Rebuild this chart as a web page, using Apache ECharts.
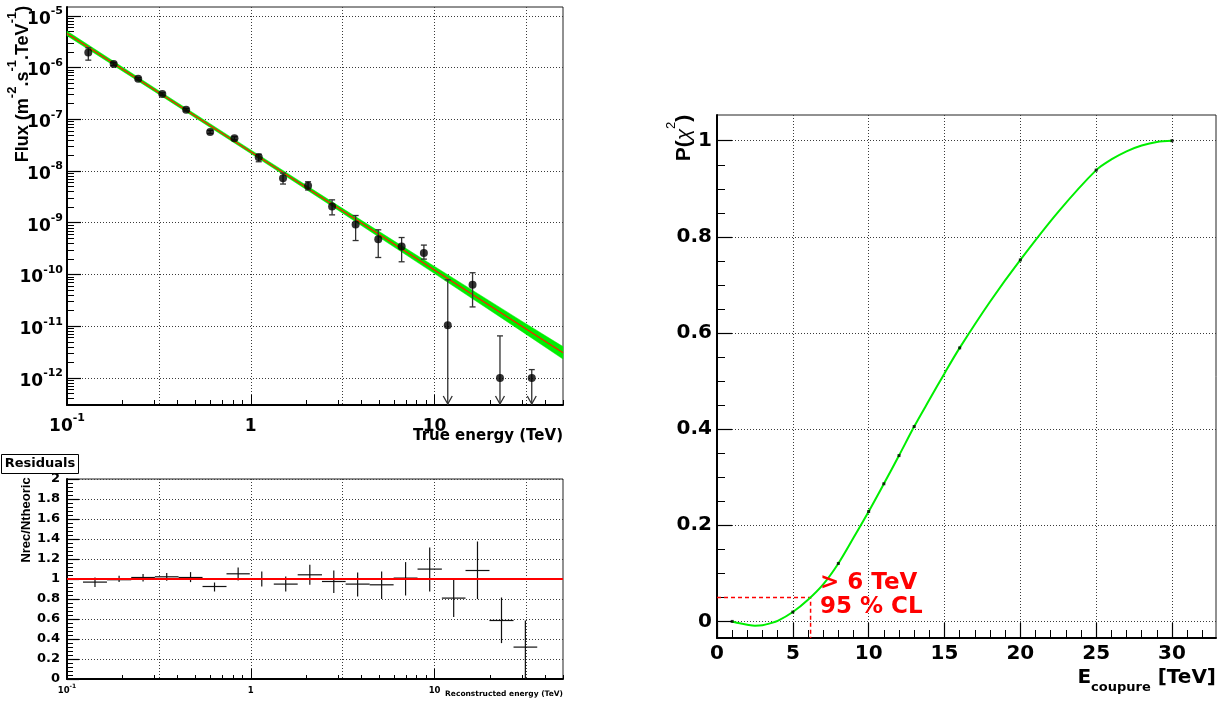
<!DOCTYPE html>
<html>
<head>
<meta charset="utf-8">
<script src="https://cdn.jsdelivr.net/npm/echarts@6.0.0/dist/echarts.min.js"></script>
<style>
html,body{margin:0;padding:0;background:#ffffff;}
#chart{width:1224px;height:702px;}
</style>
</head>
<body>
<div id="chart"></div>
<script>
// ===================== DATA =====================
// --- Differential flux (top-left panel) ---
const fluxEnergy     = [0.1306,0.1795,0.244,0.33,0.445,0.601,0.815,1.105,1.498,2.05,2.77,3.72,4.94,6.62,8.75,11.8,16.1,22.7,33.8];
const fluxValue      = [1.96e-6,1.17e-6,6.08e-7,3.08e-7,1.53e-7,5.69e-8,4.3e-8,1.85e-8,7.26e-9,5.2e-9,2.06e-9,9.25e-10,4.82e-10,3.47e-10,2.59e-10,1.04e-11,6.34e-11,1.0e-12,1.0e-12];
const fluxErrHigh    = [2.41e-6,1.25e-6,6.4e-7,3.25e-7,1.62e-7,6.1e-8,4.6e-8,2.12e-8,9.1e-9,6.2e-9,2.77e-9,1.38e-9,7.3e-10,5.18e-10,3.7e-10,7.9e-11,1.08e-10,6.5e-12,1.45e-12];
const fluxErrLow     = [1.39e-6,1.09e-6,5.8e-7,2.92e-7,1.45e-7,5.3e-8,4.0e-8,1.51e-8,5.6e-9,4.3e-9,1.42e-9,4.53e-10,2.13e-10,1.76e-10,1.98e-10,null,2.36e-11,null,null];
const fluxUpperLimit = [0,0,0,0,0,0,0,0,0,0,0,0,0,0,0,1,0,1,1];

// power-law fit and its confidence band
const fitEnergy  = [0.1, 50];
const fitFlux    = [4.57e-6, 3.06e-12];
const bandEnergy = [0.1, 0.3, 1, 3, 10, 30, 50];
const bandLow    = [4.12e-6, 3.42e-7, 2.18e-8, 1.73e-9, 1.04e-10, 7.85e-12, 2.32e-12];
const bandHigh   = [5.07e-6, 4.02e-7, 2.56e-8, 2.12e-9, 1.43e-10, 1.24e-11, 4.04e-12];

// --- Residuals (bottom-left panel) ---
const resBinEdges = [0.1222,0.165,0.2236,0.3008,0.4046,0.5464,0.7378,0.9876,1.334,1.800,2.440,3.282,4.434,5.988,8.08,10.96,14.74,19.9,26.9,36.2];
const resRatio    = [0.969,0.993,1.015,1.022,1.015,0.925,1.052,0.999,0.949,1.042,0.975,0.949,0.942,1.009,1.099,0.809,1.085,0.585,0.319];
const resUpper    = [1.015,1.033,1.049,1.059,1.069,0.965,1.115,1.075,1.025,1.142,1.085,1.065,1.075,1.169,1.315,0.992,1.375,0.815,0.585];
const resLower    = [0.920,0.970,0.975,0.982,0.969,0.875,0.985,0.925,0.875,0.942,0.859,0.825,0.799,0.835,0.875,0.619,0.799,0.359,0.0];
const resReference = 1;

// --- P(chi2) vs cut energy (right panel) ---
const cutEnergy = [1,5,8,10,11,12,13,16,20,25,30];
const chi2Prob  = [0,0.0195,0.1206,0.2287,0.2863,0.345,0.4054,0.569,0.752,0.9388,1.0];
const curveEnergy = [1,1.5,2,2.5,3,3.5,4,5,6,7,8,9,10,11,12,13,14,15,16,18,20,22.5,25,26,27,28,29,30];
const curveProb   = [0,-0.004,-0.007,-0.009,-0.008,-0.004,0.001,0.0195,0.045,0.077,0.1206,0.174,0.2287,0.2863,0.345,0.4054,0.461,0.516,0.569,0.665,0.752,0.852,0.9388,0.961,0.978,0.990,0.9975,1.0];
const clLevel  = 0.05;
const clEnergy = 6.17;

// axis ranges
const energyRange = [0.1, 50];
const fluxRange   = [3.0e-13, 1.48e-5];
const ratioRange  = [0, 2];
const cutRange    = [0, 32.9];
const probRange   = [-0.0345, 1.0535];

// tick labels
const fluxDecadeExponents = [-12,-11,-10,-9,-8,-7,-6,-5];
const energyLabelValues   = [0.1, 1, 10];
const cutTickValues       = [0,5,10,15,20,25,30];
const probTickValues      = [0,0.2,0.4,0.6,0.8,1];

// ===================== HELPERS =====================
const FH = 'DejaVu Sans';
const FV = 'Liberation Sans';
const lg = v => Math.log10(v);
const exMin = lg(energyRange[0]), exMax = lg(energyRange[1]);
const fyMin = lg(fluxRange[0]), fyMax = lg(fluxRange[1]);

const energyHalfDecades = [];
for (let v = -1; v <= exMax + 1e-9; v += 0.5) energyHalfDecades.push(v);
const energyMajor = energyLabelValues.map(lg);
const energyMinor = [];
[0.1, 1, 10].forEach(d => { for (let k = 2; k <= 9; k++) { const v = lg(k * d); if (v <= exMax) energyMinor.push(v); } });
const fluxMinor = [];
for (let n = -13; n <= -5; n++) for (let k = 2; k <= 9; k++) { const v = lg(k) + n; if (v > fyMin && v < fyMax) fluxMinor.push(v); }
const cutMinor = []; for (let i = 1; i <= 32; i++) if (i % 5) cutMinor.push(i);
const probMinor = []; for (let i = 1; i <= 20; i++) if (i % 4) probMinor.push(+(i * 0.05).toFixed(2));

const gridColor = '#3a3a3a';
function mainAxis(o) {
  return {
    type: 'value', gridIndex: o.grid, position: o.pos, min: o.min, max: o.max,
    interval: o.interval,
    axisLine: { show: true, onZero: false, lineStyle: { color: '#000', width: 2 } },
    axisTick: Object.assign({ show: !!o.tickLen, inside: true, length: o.tickLen || 0, lineStyle: { color: '#000', width: 1.2 } },
                            o.gridVals ? { customValues: o.gridVals } : {}),
    splitLine: { show: true, lineStyle: { color: gridColor, type: [1, 2], width: 1 } },
    axisLabel: Object.assign({ show: true, margin: o.margin, formatter: o.fmt, rich: o.rich, color: '#000',
                               fontFamily: FH, fontWeight: 'bold', fontSize: o.fontSize || 12 },
                             o.labelVals ? { customValues: o.labelVals } : {})
  };
}
function tickAxis(gridIdx, pos, min, max, values, len) {
  return {
    type: 'value', gridIndex: gridIdx, position: pos, min: min, max: max,
    axisLine: { show: false, onZero: false },
    axisTick: { show: true, inside: true, length: len, customValues: values, lineStyle: { color: '#000', width: 1 } },
    axisLabel: { show: false }, splitLine: { show: false }
  };
}
function richDecade(big, small, bigLH, smallLH, pad) {
  return {
    b: { fontFamily: FH, fontWeight: 'bold', fontSize: big, lineHeight: bigLH, verticalAlign: 'bottom', color: '#000' },
    e: { fontFamily: FH, fontWeight: 'bold', fontSize: small, lineHeight: smallLH, verticalAlign: 'top', color: '#000', padding: [pad, 0, 0, 0] }
  };
}
function energyFmt(v) {
  const r = Math.round(v);
  if (r === -1) return '{b|10}{e|-1}';
  if (r === 0) return '{b|1}';
  return '{b|10}';
}
const numFmt = v => { const r = Math.round(v * 10) / 10; return String(r); };

// ===================== OPTION =====================
const chart = echarts.init(document.getElementById('chart'), null, { renderer: 'canvas' });

const option = {
  animation: false,
  backgroundColor: '#ffffff',
  textStyle: { fontFamily: FH },
  grid: [
    { left: 67, top: 7, width: 496, height: 398, show: true, borderColor: '#222', borderWidth: 1, backgroundColor: 'transparent' },
    { left: 67, top: 479, width: 496, height: 200, show: true, borderColor: '#222', borderWidth: 1, backgroundColor: 'transparent' },
    { left: 717, top: 115, width: 499, height: 523, show: true, borderColor: '#222', borderWidth: 1, backgroundColor: 'transparent' }
  ],
  xAxis: [
    // 0: flux energy main
    mainAxis({ grid: 0, pos: 'bottom', min: exMin, max: exMax, gridVals: energyHalfDecades, labelVals: energyMajor,
               fmt: energyFmt, rich: richDecade(17, 11, 24, 14, 2), margin: 6 }),
    tickAxis(0, 'bottom', exMin, exMax, energyMinor, 5),
    tickAxis(0, 'bottom', exMin, exMax, energyMajor, 10),
    // 3: residual energy main
    mainAxis({ grid: 1, pos: 'bottom', min: exMin, max: exMax, gridVals: energyHalfDecades, labelVals: energyMajor,
               fmt: energyFmt, rich: richDecade(8.5, 6, 12, 7, 0), margin: 4 }),
    tickAxis(1, 'bottom', exMin, exMax, energyMinor, 4),
    tickAxis(1, 'bottom', exMin, exMax, energyMajor, 10),
    // 6: cut energy main
    mainAxis({ grid: 2, pos: 'bottom', min: cutRange[0], max: cutRange[1], gridVals: cutTickValues, labelVals: cutTickValues,
               fmt: v => String(Math.round(v)), tickLen: 15, margin: 6, fontSize: 20 }),
    tickAxis(2, 'bottom', cutRange[0], cutRange[1], cutMinor, 8)
  ],
  yAxis: [
    // 0: flux main
    mainAxis({ grid: 0, pos: 'left', min: fyMin, max: fyMax, gridVals: fluxDecadeExponents, labelVals: fluxDecadeExponents,
               fmt: v => '{b|10}{e|' + Math.round(v) + '}', rich: richDecade(17, 11, 24, 14, 2), tickLen: 14, margin: 4 }),
    tickAxis(0, 'left', fyMin, fyMax, fluxMinor, 7),
    // 2: residual ratio
    mainAxis({ grid: 1, pos: 'left', min: ratioRange[0], max: ratioRange[1], interval: 0.2,
               fmt: numFmt, tickLen: 12, margin: 7, fontSize: 13 }),
    { type: 'value', gridIndex: 1, position: 'left', min: ratioRange[0], max: ratioRange[1], interval: 0.04,
      axisLine: { show: false, onZero: false }, axisLabel: { show: false }, splitLine: { show: false },
      axisTick: { show: true, inside: true, length: 6, lineStyle: { color: '#000', width: 1 } } },
    // 4: probability
    mainAxis({ grid: 2, pos: 'left', min: probRange[0], max: probRange[1], gridVals: probTickValues, labelVals: probTickValues,
               fmt: numFmt, tickLen: 15, margin: 5, fontSize: 20 }),
    tickAxis(2, 'left', probRange[0], probRange[1], probMinor, 8)
  ],
  series: [
    // --- flux panel ---
    {
      type: 'custom', name: 'band', xAxisIndex: 0, yAxisIndex: 0, z: 2,
      data: [[lg(bandEnergy[0]), lg(bandLow[0])]],
      renderItem: (params, api) => {
        const pts = [];
        for (let i = 0; i < bandEnergy.length; i++) pts.push(api.coord([lg(bandEnergy[i]), lg(bandHigh[i])]));
        for (let i = bandEnergy.length - 1; i >= 0; i--) pts.push(api.coord([lg(bandEnergy[i]), lg(bandLow[i])]));
        return { type: 'polygon', shape: { points: pts }, style: { fill: '#00ee00', stroke: '#00ee00', lineWidth: 0.5 } };
      }
    },
    {
      type: 'line', name: 'fit', xAxisIndex: 0, yAxisIndex: 0, z: 3, symbol: 'none',
      data: fitEnergy.map((e, i) => [lg(e), lg(fitFlux[i])]),
      lineStyle: { color: '#ff1a00', width: 1.2 }
    },
    {
      type: 'custom', name: 'errors', xAxisIndex: 0, yAxisIndex: 0, z: 4,
      data: fluxEnergy.map((e, i) => [lg(e), lg(fluxValue[i]), lg(fluxErrHigh[i]),
                                      lg(fluxErrLow[i] === null ? fluxValue[i] : fluxErrLow[i]), fluxUpperLimit[i]]),
      renderItem: (params, api) => {
        const x = api.value(0);
        const ul = api.value(4);
        const pHi = api.coord([x, api.value(2)]);
        const cs = params.coordSys;
        const bottom = cs.y + cs.height;
        const pLo = ul ? [pHi[0], bottom] : api.coord([x, api.value(3)]);
        const st = { stroke: '#303030', lineWidth: 1.3, fill: 'none' };
        const ch = [
          { type: 'line', shape: { x1: pHi[0], y1: pHi[1], x2: pLo[0], y2: pLo[1] }, style: st },
          { type: 'line', shape: { x1: pHi[0] - 3, y1: pHi[1], x2: pHi[0] + 3, y2: pHi[1] }, style: st }
        ];
        if (ul) {
          ch.push({ type: 'polyline', shape: { points: [[pLo[0] - 4.5, bottom - 9], [pLo[0], bottom - 1], [pLo[0] + 4.5, bottom - 9]] }, style: st });
        } else {
          ch.push({ type: 'line', shape: { x1: pLo[0] - 3, y1: pLo[1], x2: pLo[0] + 3, y2: pLo[1] }, style: st });
        }
        return { type: 'group', children: ch };
      }
    },
    {
      type: 'scatter', name: 'flux', xAxisIndex: 0, yAxisIndex: 0, z: 5,
      symbol: 'circle', symbolSize: 8, itemStyle: { color: '#000' },
      data: fluxEnergy.map((e, i) => [lg(e), lg(fluxValue[i])])
    },
    // --- residual panel ---
    {
      type: 'custom', name: 'residuals', xAxisIndex: 3, yAxisIndex: 2, z: 4,
      data: resRatio.map((r, i) => [ (lg(resBinEdges[i]) + lg(resBinEdges[i + 1])) / 2, r,
                                     lg(resBinEdges[i]), lg(resBinEdges[i + 1]), resUpper[i], resLower[i] ]),
      renderItem: (params, api) => {
        const xc = api.value(0), r = api.value(1);
        const a = api.coord([api.value(2), r]);
        const b = api.coord([api.value(3), r]);
        const u = api.coord([xc, api.value(4)]);
        const d = api.coord([xc, api.value(5)]);
        const st = { stroke: '#111', lineWidth: 1.2, fill: 'none' };
        return { type: 'group', children: [
          { type: 'line', shape: { x1: a[0], y1: a[1], x2: b[0], y2: b[1] }, style: st },
          { type: 'line', shape: { x1: u[0], y1: u[1], x2: d[0], y2: d[1] }, style: st }
        ] };
      }
    },
    {
      type: 'line', name: 'reference', xAxisIndex: 3, yAxisIndex: 2, z: 6, symbol: 'none',
      data: [[exMin, resReference], [exMax, resReference]],
      lineStyle: { color: '#ff0000', width: 2.2 }
    },
    // --- probability panel ---
    {
      type: 'line', name: 'cl', xAxisIndex: 6, yAxisIndex: 4, z: 3, symbol: 'none',
      data: [[cutRange[0], clLevel], [clEnergy, clLevel], [clEnergy, probRange[0]]],
      lineStyle: { color: '#ff0000', width: 1.5, type: [4, 3] }
    },
    {
      type: 'line', name: 'P', xAxisIndex: 6, yAxisIndex: 4, z: 4, symbol: 'none', smooth: 0.3,
      data: curveEnergy.map((e, i) => [e, curveProb[i]]),
      lineStyle: { color: '#00ee00', width: 2 }
    },
    {
      type: 'scatter', name: 'nodes', xAxisIndex: 6, yAxisIndex: 4, z: 5,
      symbol: 'rect', symbolSize: 3, itemStyle: { color: '#000' },
      data: cutEnergy.map((e, i) => [e, chi2Prob[i]])
    }
  ],
  graphic: [
    { type: 'text', x: 19, y: 84, rotation: Math.PI / 2, z: 10,
      style: { text: '{m|Flux (m}{s|-2}{m|.s}{s|-1}{m|.TeV}{s|-1}{m|)}', align: 'center', verticalAlign: 'middle',
        rich: { m: { fontFamily: FV, fontWeight: 'bold', fontSize: 18, lineHeight: 26, verticalAlign: 'bottom', fill: '#000' },
                s: { fontFamily: FV, fontWeight: 'bold', fontSize: 13, lineHeight: 14, verticalAlign: 'top', fill: '#000' } } } },
    { type: 'text', x: 563, y: 436, z: 10,
      style: { text: 'True energy (TeV)', fontFamily: FH, fontWeight: 'bold', fontSize: 15, fill: '#000', align: 'right', verticalAlign: 'middle' } },
    { type: 'rect', shape: { x: 1.5, y: 454.5, width: 77, height: 19 }, z: 10,
      style: { fill: '#fff', stroke: '#000', lineWidth: 1 } },
    { type: 'text', x: 40, y: 464, z: 11,
      style: { text: 'Residuals', fontFamily: FH, fontWeight: 'bold', fontSize: 13, fill: '#000', align: 'center', verticalAlign: 'middle' } },
    { type: 'text', x: 26, y: 520, rotation: Math.PI / 2, z: 10,
      style: { text: 'Nrec/Ntheoric', fontFamily: FV, fontWeight: 'bold', fontSize: 13, fill: '#000', align: 'center', verticalAlign: 'middle' } },
    { type: 'text', x: 563, y: 694, z: 10,
      style: { text: 'Reconstructed energy (TeV)', fontFamily: FH, fontWeight: 'bold', fontSize: 7.5, fill: '#000', align: 'right', verticalAlign: 'middle' } },
    { type: 'text', x: 680, y: 138, rotation: Math.PI / 2, z: 10,
      style: { text: '{m|P(}{c|χ}{s|2}{m|)}', align: 'center', verticalAlign: 'middle',
        rich: { m: { fontFamily: FV, fontWeight: 'bold', fontSize: 21, lineHeight: 30, verticalAlign: 'bottom', fill: '#000' },
                c: { fontFamily: FV, fontStyle: 'italic', fontSize: 21, lineHeight: 30, verticalAlign: 'bottom', fill: '#000' },
                s: { fontFamily: FV, fontSize: 13, lineHeight: 16, verticalAlign: 'top', fill: '#000' } } } },
    { type: 'text', x: 1216, y: 668, z: 10,
      style: { text: '{m|E}{s|coupure}{m| [TeV]}', align: 'right', verticalAlign: 'top',
        rich: { m: { fontFamily: FH, fontWeight: 'bold', fontSize: 20, verticalAlign: 'top', fill: '#000' },
                s: { fontFamily: FH, fontWeight: 'bold', fontSize: 13, verticalAlign: 'top', padding: [13, 0, 0, 0], fill: '#000' } } } },
    { type: 'text', x: 820, y: 571, z: 10,
      style: { text: '> 6 TeV\n95 % CL', fontFamily: FH, fontWeight: 'bold', fontSize: 23, lineHeight: 24, fill: '#ff0000', align: 'left', verticalAlign: 'top' } }
  ]
};
chart.setOption(option);
</script>
</body>
</html>
